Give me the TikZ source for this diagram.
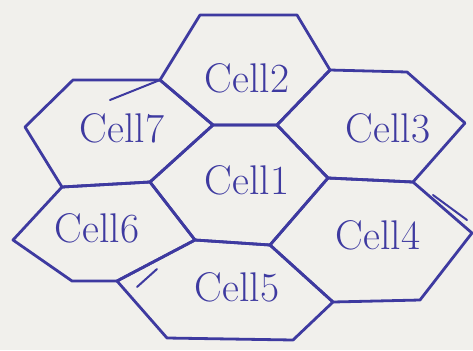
\documentclass[tikz,border=0pt]{standalone}
\usepackage{xcolor}
\usepackage{tikz}
\usetikzlibrary{positioning}

\definecolor{ink}{RGB}{62,58,160}
\definecolor{paper}{RGB}{241,240,236}

\begin{document}
\begin{tikzpicture}[x=0.5pt, y=-0.5pt]
\tikzstyle{cellborder} = [draw=ink, line width=1.4pt, line join=round, line cap=round]
\tikzstyle{scribble} = [draw=ink, line width=1pt, line cap=round]
\tikzstyle{celllabel} = [text=ink, font=\huge]

% paper
\fill[paper] (0,0) rectangle (473,350);
\useasboundingbox (0,0) rectangle (473,350);

% shared corners of the cells
\coordinate (a1) at (200,15);
\coordinate (a2) at (297,15);
\coordinate (a3) at (330,70);
\coordinate (a4) at (277,125);
\coordinate (a5) at (213,125);
\coordinate (a6) at (160,80);
\coordinate (b1) at (328,178);
\coordinate (b2) at (270,245);
\coordinate (b3) at (195,240);
\coordinate (b4) at (150,182);
\coordinate (c1) at (73,80);
\coordinate (c2) at (62,187);
\coordinate (c3) at (25,127);
\coordinate (d1) at (407,72);
\coordinate (d2) at (465,123);
\coordinate (d3) at (413,182);
\coordinate (e1) at (472,233);
\coordinate (e2) at (420,300);
\coordinate (e3) at (333,302);
\coordinate (f1) at (293,340);
\coordinate (f2) at (167,338);
\coordinate (g1) at (117,281);
\coordinate (g2) at (72,281);
\coordinate (g3) at (13,240);

% cells
\draw [cellborder] (a1) -- (a2) -- (a3) -- (a4) -- (a5) -- (a6) -- cycle;
\draw [cellborder] (a5) -- (a4) -- (b1) -- (b2) -- (b3) -- (b4) -- cycle;
\draw [cellborder] (c1) -- (a6) -- (a5) -- (b4) -- (c2) -- (c3) -- cycle;
\draw [cellborder] (a3) -- (d1) -- (d2) -- (d3) -- (b1) -- (a4) -- cycle;
\draw [cellborder] (b1) -- (d3) -- (e1) -- (e2) -- (e3) -- (b2) -- cycle;
\draw [cellborder] (b3) -- (b2) -- (e3) -- (f1) -- (f2) -- (g1) -- cycle;
\draw [cellborder] (c2) -- (b4) -- (b3) -- (g1) -- (g2) -- (g3) -- cycle;

% pen strokes
\draw [scribble] (a6) -- (110,100);
\draw [scribble] (d3) ++(20,13) -- ++(34,25);
\draw [scribble] (g1) ++(20,6) -- ++(20,-18);

% labels
\node (l2) [celllabel] at (247,78) {Cell2};
\node (l1) [celllabel] at (247,180) {Cell1};
\node (l7) [celllabel] at (122,128) {Cell7};
\node (l3) [celllabel] at (388,128) {Cell3};
\node (l6) [celllabel] at (97,228) {Cell6};
\node (l4) [celllabel] at (378,235) {Cell4};
\node (l5) [celllabel] at (237,287) {Cell5};
\end{tikzpicture}
\end{document}
